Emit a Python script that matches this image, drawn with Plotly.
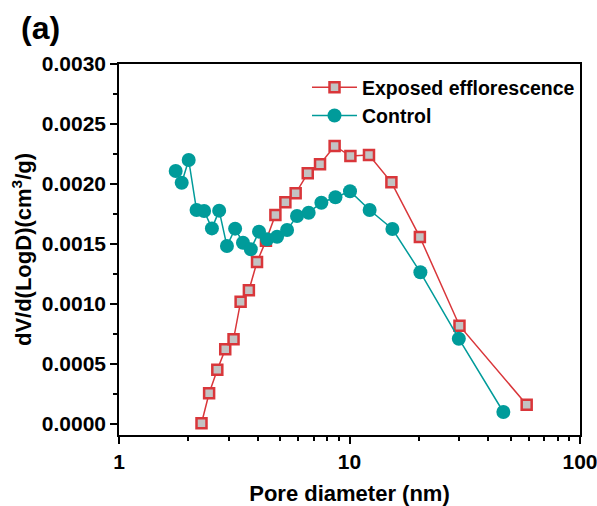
import plotly.graph_objects as go

exp_x = [2.28, 2.46, 2.67, 2.89, 3.14, 3.37, 3.66, 3.97, 4.34, 4.77, 5.27, 5.84,
         6.59, 7.45, 8.62, 10.09, 12.15, 15.2, 20.2, 30.0, 58.7]
exp_y = [0.000006, 0.000256, 0.000453, 0.000622, 0.000706, 0.001019, 0.001114,
         0.00135, 0.001528, 0.001742, 0.001847, 0.001922, 0.002089, 0.002164,
         0.002317, 0.002233, 0.002242, 0.002014, 0.001558, 0.000819, 0.000161]

ctl_x = [1.762, 1.871, 2.006, 2.17, 2.34, 2.53, 2.72, 2.94, 3.19, 3.45, 3.73, 4.05,
         4.39, 4.85, 5.36, 5.92, 6.65, 7.55, 8.69, 10.05, 12.23, 15.35, 20.3, 29.8, 46.5]
ctl_y = [0.002108, 0.00201, 0.0022, 0.001783, 0.001775, 0.00163, 0.001778, 0.001483,
         0.001628, 0.001511, 0.001456, 0.001603, 0.001539, 0.001561, 0.001617,
         0.001733, 0.001761, 0.001844, 0.001889, 0.00194, 0.001783, 0.001625,
         0.001264, 0.000711, 0.0001]

x_ticks = [1, 10, 100]
x_minor = [2, 3, 4, 5, 6, 7, 8, 9, 20, 30, 40, 50, 60, 70, 80, 90]

FONT = "Liberation Sans, Arial, sans-serif"
RED = "#d9363a"
TEAL = "#009b9a"

fig = go.Figure()
fig.add_trace(go.Scatter(
    x=exp_x, y=exp_y, mode="lines+markers", name="Exposed efflorescence",
    line=dict(color=RED, width=1.5),
    marker=dict(symbol="square", size=10, color="#c3c3c3",
                line=dict(color=RED, width=2.5)),
))
fig.add_trace(go.Scatter(
    x=ctl_x, y=ctl_y, mode="lines+markers", name="Control",
    line=dict(color=TEAL, width=1.5),
    marker=dict(symbol="circle", size=14, color=TEAL, line=dict(width=0)),
))

# body margin is removed below, so figure coordinates == page coordinates
W, H = 597, 506
L, T = 119, 64
PW, PH = 461, 371
R, B = W - L - PW, H - T - PH

fig.update_layout(
    width=W, height=H,
    margin=dict(l=L, r=R, t=T, b=B, autoexpand=False),
    paper_bgcolor="white", plot_bgcolor="white",
    font=dict(family=FONT, color="black"),
    showlegend=True,
    legend=dict(x=(307 - L) / PW, y=1 - (68 - T) / PH, xanchor="left", yanchor="top",
                bgcolor="rgba(0,0,0,0)", borderwidth=0,
                font=dict(family=FONT, size=19.5, color="black", weight="bold"),
                itemwidth=45, tracegroupgap=0),
    annotations=[dict(text="<b>(a)</b>", xref="paper", yref="paper",
                      x=(19 - L) / PW, y=1 + (T - 28) / PH,
                      xanchor="left", yanchor="middle", showarrow=False,
                      font=dict(family=FONT, size=32, color="black"))],
)

fig.update_xaxes(
    type="log", range=[0, 2], automargin=False, ticklabeloverflow="allow",
    tickmode="array", tickvals=x_ticks, ticktext=[str(v) for v in x_ticks],
    ticks="outside", ticklen=7, tickwidth=1.5, tickcolor="black",
    showline=True, linewidth=1.5, linecolor="black", mirror=True,
    showgrid=False, zeroline=False,
    tickfont=dict(family=FONT, size=21, color="black", weight="bold"),
    minor=dict(tickmode="array", tickvals=x_minor, ticks="outside", ticklen=4,
               tickwidth=1.5, tickcolor="black", showgrid=False),
    title=dict(text="<b>Pore diameter (nm)</b>", standoff=15,
               font=dict(family=FONT, size=22, color="black")),
)
fig.update_yaxes(
    range=[-0.0000917, 0.0030], automargin=False,
    tickmode="linear", tick0=0, dtick=0.0005, tickformat=".4f",
    ticks="outside", ticklen=7, tickwidth=1.5, tickcolor="black",
    showline=True, linewidth=1.5, linecolor="black", mirror=True,
    showgrid=False, zeroline=False,
    tickfont=dict(family=FONT, size=21, color="black", weight="bold"),
    minor=dict(tick0=0, dtick=0.00025, ticks="outside", ticklen=4,
               tickwidth=1.5, tickcolor="black", showgrid=False),
    title=dict(text="<b>dV/d(LogD)(cm<sup>3</sup>/g)</b>", standoff=4,
               font=dict(family=FONT, size=22, color="black")),
)

fig.write_html("out.html",
               config={"displayModeBar": False},
               post_script="document.body.style.margin='0px';"
                           "document.body.style.overflow='hidden';")
